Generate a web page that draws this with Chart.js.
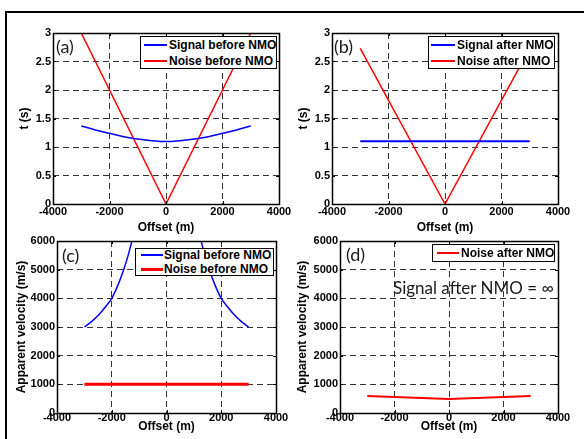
<!DOCTYPE html>
<html>
<head>
<meta charset="utf-8">
<script src="https://cdn.jsdelivr.net/npm/chart.js@4.4.1/dist/chart.umd.min.js"></script>
<style>
  body { margin: 0; background: #fff; overflow: hidden; }
  #page { position: relative; width: 584px; height: 439px; overflow: hidden; }
  #page canvas { position: absolute; }
  .frame { position: absolute; left: 5px; top: 11px; width: 620px; height: 460px; border-top: 2px solid #000; border-left: 2px solid #000; }
  .legend { position: absolute; box-sizing: border-box; background: #fff; border: 1px solid #000; font: bold 12px "Liberation Sans", Arial, sans-serif; color: #000; }
  .legend .txt { position: absolute; white-space: nowrap; line-height: 14px; }
  .legend .ln { position: absolute; }
  .tag { position: absolute; white-space: nowrap; font-family: Lato, sans-serif; font-size: 18px; line-height: 18px; color: #1a1a1a; }
  .note { font-size: 17px; }
</style>
</head>
<body>
<div id="page">
  <div class="frame"></div>
</div>
<script>
// axis ticks
const xTicks = [-4000, -2000, 0, 2000, 4000];
const tTicks = [0, 0.5, 1, 1.5, 2, 2.5, 3];
const vTicks = [0, 1000, 2000, 3000, 4000, 5000, 6000];

// (a) before NMO, time
const sigBeforeX = [-3000, -2500, -2000, -1500, -1000, -500, 0, 500, 1000, 1500, 2000, 2500, 3000];
const sigBeforeT = [1.37, 1.30, 1.24, 1.18, 1.14, 1.11, 1.095, 1.11, 1.14, 1.18, 1.24, 1.30, 1.37];
const noiseBeforeX = [-3000, 0, 3000];
const noiseBeforeT = [3, 0, 3];

// (b) after NMO, time
const sigAfterX = [-3000, 3000];
const sigAfterT = [1.1, 1.1];
const noiseAfterX = [-3000, 0, 3000];
const noiseAfterT = [2.73, 0, 2.73];

// (c) before NMO, apparent velocity
const sigVelLeftX = [-3000, -2750, -2500, -2250, -2000, -1800, -1600, -1400, -1250];
const sigVelLeft = [3000, 3180, 3400, 3680, 4000, 4400, 4900, 5500, 6050];
const sigVelRightX = [1250, 1400, 1600, 1800, 2000, 2250, 2500, 2750, 3000];
const sigVelRight = [6050, 5500, 4900, 4400, 4000, 3680, 3400, 3180, 3000];
const noiseVelBeforeX = [-3000, 3000];
const noiseVelBefore = [1000, 1000];

// (d) after NMO, apparent velocity
const noiseVelAfterX = [-3000, -2000, -1000, 0, 1000, 2000, 3000];
const noiseVelAfter = [590, 560, 525, 490, 525, 560, 595];

const BLUE = '#0000ff';
const RED = '#ff0000';
const FONT = '"Liberation Sans", Arial, sans-serif';

const page = document.getElementById('page');

function pts(xs, ys) {
    return xs.map((x, i) => ({ x: x, y: ys[i] }));
}

function line(xs, ys, color, width, smooth) {
    return {
        data: pts(xs, ys),
        showLine: true,
        pointRadius: 0,
        borderColor: color,
        backgroundColor: color,
        borderWidth: width,
        fill: false,
        tension: 0,
        cubicInterpolationMode: smooth ? 'monotone' : 'default'
    };
}

// matlab style box with inner tick marks
const boxPlugin = {
    id: 'box',
    afterDatasetsDraw(chart) {
        const { ctx, chartArea: a, scales } = chart;
        ctx.save();
        ctx.strokeStyle = '#000';
        ctx.lineWidth = 1;
        ctx.beginPath();
        scales.x.ticks.forEach(t => {
            const px = Math.round(scales.x.getPixelForValue(t.value)) + 0.5;
            ctx.moveTo(px, a.bottom); ctx.lineTo(px, a.bottom - 3);
            ctx.moveTo(px, a.top); ctx.lineTo(px, a.top + 3);
        });
        scales.y.ticks.forEach(t => {
            const py = Math.round(scales.y.getPixelForValue(t.value)) + 0.5;
            ctx.moveTo(a.left, py); ctx.lineTo(a.left + 3, py);
            ctx.moveTo(a.right, py); ctx.lineTo(a.right - 3, py);
        });
        ctx.stroke();
        ctx.lineWidth = 1.5;
        ctx.strokeRect(a.left + 0.5, a.top + 0.5, a.right - a.left, a.bottom - a.top);
        ctx.restore();
    }
};

function gridOpts(min, max) {
    return {
        drawTicks: false,
        lineWidth: 1,
        borderDash: [6, 4],
        color: c => (c.tick && (c.tick.value === min || c.tick.value === max)) ? 'rgba(0,0,0,0)' : '#333'
    };
}

function makePanel(p) {
    const c = document.createElement('canvas');
    c.width = p.R - p.L + 80;
    c.height = p.B - p.T + 12 + p.xh;
    c.style.left = (p.L - 50) + 'px';
    c.style.top = (p.T - 12) + 'px';
    page.appendChild(c);
    return new Chart(c, {
        type: 'scatter',
        data: { datasets: p.datasets },
        options: {
            responsive: false,
            animation: false,
            devicePixelRatio: 1,
            layout: { padding: { left: 0, top: 12, right: 30, bottom: 0 } },
            plugins: { legend: { display: false }, tooltip: { enabled: false } },
            scales: {
                x: {
                    type: 'linear', min: -4000, max: 4000,
                    afterBuildTicks: s => { s.ticks = xTicks.map(v => ({ value: v })); },
                    afterFit: s => { s.height = p.xh; },
                    ticks: { color: '#000', font: { family: FONT, size: 11, weight: 'bold' }, padding: p.xtp, maxRotation: 0, autoSkip: false, callback: v => String(v) },
                    grid: gridOpts(-4000, 4000),
                    border: { display: false, dash: [6, 4] },
                    title: { display: true, text: 'Offset (m)', color: '#000', font: { family: FONT, size: 12, weight: 'bold' }, padding: { top: 0, bottom: p.xTitlePad } }
                },
                y: {
                    type: 'linear', min: p.yTicks[0], max: p.yTicks[p.yTicks.length - 1],
                    afterBuildTicks: s => { s.ticks = p.yTicks.map(v => ({ value: v })); },
                    afterFit: s => { s.width = 50; },
                    ticks: { color: '#000', font: { family: FONT, size: 11, weight: 'bold' }, padding: 2, autoSkip: false, callback: v => String(v) },
                    grid: gridOpts(p.yTicks[0], p.yTicks[p.yTicks.length - 1]),
                    border: { display: false, dash: [6, 4] },
                    title: { display: true, text: p.yTitle, color: '#000', font: { family: FONT, size: 12, weight: 'bold' }, padding: { top: p.yTitlePad, bottom: 0 } }
                }
            }
        },
        plugins: [boxPlugin]
    });
}

function makeLegend(box, rows) {
    const d = document.createElement('div');
    d.className = 'legend';
    d.style.left = box.x + 'px';
    d.style.top = box.y + 'px';
    d.style.width = box.w + 'px';
    d.style.height = box.h + 'px';
    rows.forEach(r => {
        const ln = document.createElement('div');
        ln.className = 'ln';
        ln.style.left = box.lx1 + 'px';
        ln.style.width = (box.lx2 - box.lx1) + 'px';
        ln.style.top = (r.y - r.w / 2) + 'px';
        ln.style.height = r.w + 'px';
        ln.style.background = r.color;
        d.appendChild(ln);
        const t = document.createElement('div');
        t.className = 'txt';
        t.style.left = box.tx + 'px';
        t.style.top = (r.y - 7) + 'px';
        t.textContent = r.label;
        d.appendChild(t);
    });
    page.appendChild(d);
}

function tag(text, x, y, cls) {
    const d = document.createElement('div');
    d.className = 'tag' + (cls ? ' ' + cls : '');
    d.style.left = x + 'px';
    d.style.top = y + 'px';
    d.textContent = text;
    page.appendChild(d);
}

// (a)
makePanel({
    L: 53, T: 33, R: 279, B: 204, xh: 36, xtp: 1, xTitlePad: 5,
    yTicks: tTicks, yTitle: 't (s)', yTitlePad: 14,
    datasets: [
        line(sigBeforeX, sigBeforeT, BLUE, 1.5, true),
        line(noiseBeforeX, noiseBeforeT, RED, 1.5, false)
    ]
});
// (b)
makePanel({
    L: 332, T: 33, R: 558, B: 204, xh: 36, xtp: 1, xTitlePad: 5,
    yTicks: tTicks, yTitle: 't (s)', yTitlePad: 14,
    datasets: [
        line(sigAfterX, sigAfterT, BLUE, 2, false),
        line(noiseAfterX, noiseAfterT, RED, 1.5, false)
    ]
});
// (c)
makePanel({
    L: 57, T: 241, R: 276, B: 413, xh: 30, xtp: -2, xTitlePad: 9,
    yTicks: vTicks, yTitle: 'Apparent velocity (m/s)', yTitlePad: 7,
    datasets: [
        line(sigVelLeftX, sigVelLeft, BLUE, 1.5, true),
        line(sigVelRightX, sigVelRight, BLUE, 1.5, true),
        line(noiseVelBeforeX, noiseVelBefore, RED, 3, false)
    ]
});
// (d)
makePanel({
    L: 340, T: 241, R: 558, B: 413, xh: 30, xtp: -2, xTitlePad: 9,
    yTicks: vTicks, yTitle: 'Apparent velocity (m/s)', yTitlePad: 5,
    datasets: [
        line(noiseVelAfterX, noiseVelAfter, RED, 2, false)
    ]
});

makeLegend({ x: 140, y: 36, w: 137, h: 33, lx1: 3, lx2: 26, tx: 28 }, [
    { label: 'Signal before NMO', color: BLUE, w: 1.5, y: 8 },
    { label: 'Noise before NMO', color: RED, w: 1.5, y: 24 }
]);
makeLegend({ x: 428, y: 36, w: 127, h: 33, lx1: 2, lx2: 26, tx: 28 }, [
    { label: 'Signal after NMO', color: BLUE, w: 1.5, y: 8 },
    { label: 'Noise after NMO', color: RED, w: 1.5, y: 24 }
]);
makeLegend({ x: 135, y: 248, w: 139, h: 28, lx1: 5, lx2: 27, tx: 28 }, [
    { label: 'Signal before NMO', color: BLUE, w: 1.5, y: 6 },
    { label: 'Noise before NMO', color: RED, w: 3, y: 20 }
]);
makeLegend({ x: 432, y: 244, w: 123, h: 18, lx1: 4, lx2: 26, tx: 28 }, [
    { label: 'Noise after NMO', color: RED, w: 2, y: 8 }
]);

tag('(a)', 56, 37);
tag('(b)', 334, 37);
tag('(c)', 62, 246);
tag('(d)', 346, 245);
tag('Signal after NMO = \u221E', 393, 279, 'note');
</script>
</body>
</html>
